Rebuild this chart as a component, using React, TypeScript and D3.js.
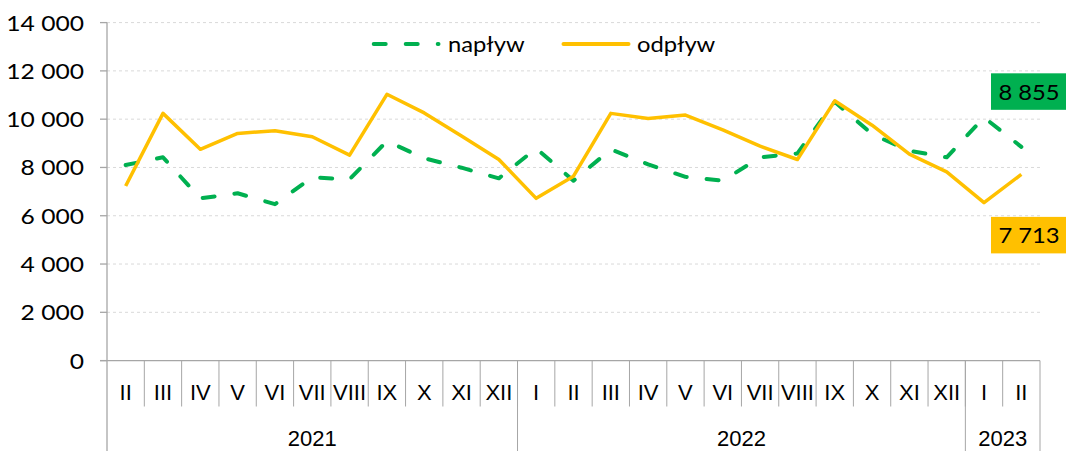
import React from "react";
import * as d3 from "d3";

const months = ["II","III","IV","V","VI","VII","VIII","IX","X","XI","XII","I","II","III","IV","V","VI","VII","VIII","IX","X","XI","XII","I","II"];
const years = ["2021", "2022", "2023"];
const yearCounts = [11, 12, 2];
const naplyw = [8100, 8420, 6720, 6930, 6480, 7590, 7510, 9090, 8380, 7990, 7550, 8790, 7450, 8750, 8130, 7610, 7450, 8420, 8580, 10720, 9380, 8690, 8420, 10070, 8855];
const odplyw = [7230, 10240, 8750, 9410, 9520, 9270, 8510, 11030, 10260, 9300, 8330, 6720, 7640, 10240, 10030, 10170, 9560, 8880, 8330, 10760, 9750, 8550, 7820, 6540, 7713];
const yTicks = [0, 2000, 4000, 6000, 8000, 10000, 12000, 14000];
const seriesNames = ["napływ", "odpływ"];

const W = 1066, H = 451;
const GREEN = "#00B050";
const ORANGE = "#FFC000";
const AXIS = "#A6A6A6";

export default function App() {
  const left = 107, right = 1040, top = 22.6, bottom = 360.6;
  const idx = months.map((_, i) => i);
  const x = d3.scaleBand<number>().domain(idx).range([left, right]).padding(0);
  const y = d3.scaleLinear().domain([0, 14000]).range([bottom, top]);
  const cx = (i: number) => (x(i) as number) + x.bandwidth() / 2;
  const fmt = d3.formatLocale({ decimal: ",", thousands: " ", grouping: [3], currency: ["", ""] }).format(",d");
  const line = d3.line<number>().x((_, i) => cx(i)).y((d) => y(d));

  let acc = 0;
  const yearSpans = years.map((yr, k) => {
    const s = acc;
    acc += yearCounts[k];
    return { yr, s, e: acc };
  });
  const bw = x.bandwidth();
  const last = months.length - 1;

  const axisFont = "Lato, 'Open Sans', sans-serif";
  const catFont = "'Liberation Sans', Arial, sans-serif";
  const SX = 1.1;

  const T = (props: { x: number; y: number; anchor?: string; size?: number; sx?: number; children: React.ReactNode }) => (
    <text
      transform={`translate(${props.x},${props.y}) scale(${props.sx ?? SX},1)`}
      dy="0.36em"
      textAnchor={props.anchor ?? "start"}
      fontFamily={axisFont}
      fontSize={props.size ?? 22}
      fill="#000"
    >
      {props.children}
    </text>
  );

  return (
    <svg width={W} height={H} style={{ position: "absolute", left: 0, top: 0, background: "#fff" }}>
      {yTicks.filter((t) => t > 0).map((t) => (
        <line key={"g" + t} x1={left} x2={right} y1={y(t)} y2={y(t)} stroke="#D9D9D9" strokeWidth={1} strokeDasharray="3 3" />
      ))}
      {yTicks.map((t) => (
        <g key={"t" + t}>
          <line x1={left - 7} x2={left} y1={y(t)} y2={y(t)} stroke={AXIS} strokeWidth={1.3} />
          <T x={84} y={y(t)} anchor="end" size={22} sx={1.12}>{fmt(t)}</T>
        </g>
      ))}
      <line x1={left} x2={left} y1={top} y2={H} stroke={AXIS} strokeWidth={1.3} />
      <line x1={left - 7} x2={right} y1={bottom} y2={bottom} stroke={AXIS} strokeWidth={1.3} />
      {idx.slice(1).map((i) => (
        <line key={"d" + i} x1={x(i) as number} x2={x(i) as number} y1={bottom} y2={406.5} stroke={AXIS} strokeWidth={1} />
      ))}
      {yearSpans.map((s) => (
        <line key={"yd" + s.yr} x1={left + s.e * bw} x2={left + s.e * bw} y1={bottom} y2={H} stroke={AXIS} strokeWidth={1} />
      ))}
      {months.map((m, i) => (
        <text key={"m" + i} x={cx(i)} y={399.5} textAnchor="middle" fontFamily={catFont} fontSize={22} fill="#000">{m}</text>
      ))}
      {yearSpans.map((s) => (
        <text key={"y" + s.yr} x={left + ((s.s + s.e) / 2) * bw} y={446} textAnchor="middle" fontFamily={catFont} fontSize={22} fill="#000">{s.yr}</text>
      ))}
      <path d={line(naplyw) || ""} fill="none" stroke={GREEN} strokeWidth={4} strokeDasharray="12 20" strokeLinecap="round" strokeLinejoin="round" />
      <path d={line(odplyw) || ""} fill="none" stroke={ORANGE} strokeWidth={3.5} strokeLinejoin="round" />
      <g>
        <line x1={373.7} x2={438.5} y1={44} y2={44} stroke={GREEN} strokeWidth={4} strokeDasharray="12 20" strokeLinecap="round" />
        <T x={448} y={44} sx={1.08}>{seriesNames[0]}</T>
        <line x1={563.5} x2={628.5} y1={44} y2={44} stroke={ORANGE} strokeWidth={4} strokeLinecap="round" />
        <T x={637} y={44} sx={1.08}>{seriesNames[1]}</T>
      </g>
      <g>
        <rect x={991} y={y(naplyw[last]) - 73.5} width={75} height={36.5} fill={GREEN} />
        <T x={1029} y={y(naplyw[last]) - 55.2} anchor="middle" sx={1.08}>{fmt(naplyw[last])}</T>
        <rect x={991} y={y(odplyw[last]) + 42.5} width={75} height={36.5} fill={ORANGE} />
        <T x={1029} y={y(odplyw[last]) + 60.8} anchor="middle" sx={1.08}>{fmt(odplyw[last])}</T>
      </g>
    </svg>
  );
}
